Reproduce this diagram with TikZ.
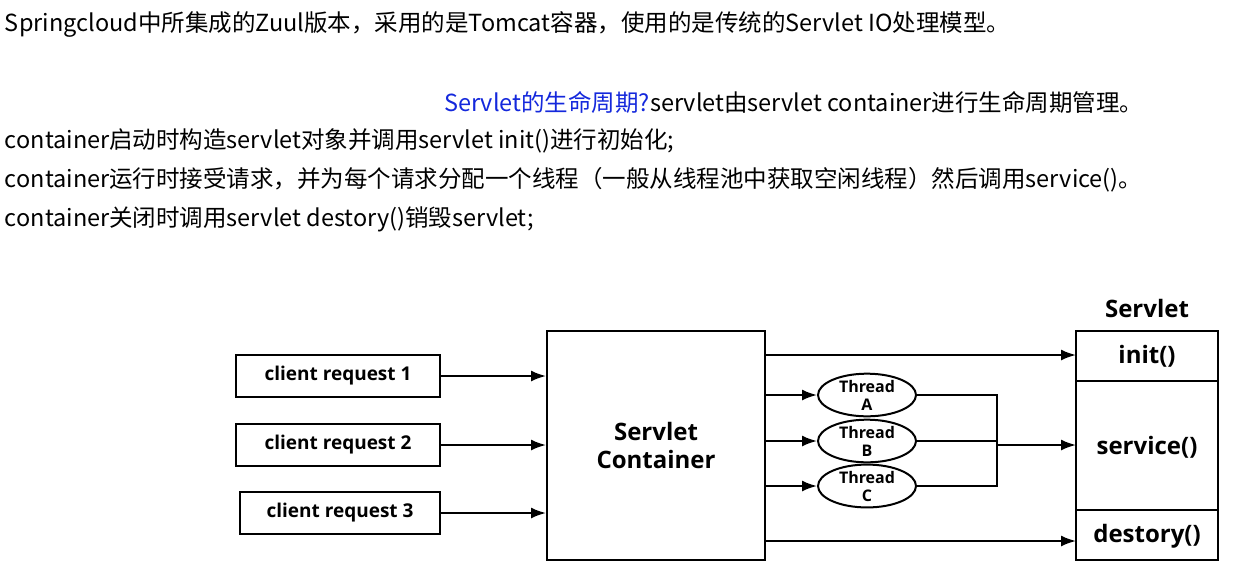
\documentclass[tikz,border=0pt]{standalone}
\usepackage{fontspec}
\setmainfont{Noto Sans CJK SC}
\newfontfamily\diagfont{Open Sans}
\usetikzlibrary{shapes.geometric,arrows.meta}
\definecolor{linkblue}{RGB}{20,40,220}
\begin{document}
\begin{tikzpicture}[x=1pt,y=-1pt,line width=2pt,
    line/.style={-{Latex[length=15pt,width=11pt]}},
    txt/.style={anchor=west,inner sep=0pt,font=\fontsize{23.5}{26}\selectfont},
    req/.style={draw,minimum width=204pt,minimum height=42pt,font=\diagfont\bfseries\fontsize{19}{22}\selectfont},
    thr/.style={draw,ellipse,minimum width=98pt,minimum height=40pt,inner sep=0pt,align=center,font=\diagfont\bfseries\fontsize{16}{18}\selectfont},
    big/.style={font=\diagfont\bfseries\fontsize{24}{28}\selectfont}]
  \useasboundingbox (0,0) rectangle (1239,573);
  % text lines
  \node[txt] (t1) at (4,24) {Springcloud中所集成的Zuul版本，采用的是Tomcat容器，使用的是传统的Servlet IO处理模型。};
  \node[txt] (t2) at (443,102) {\textcolor{linkblue}{Servlet的生命周期?}servlet由servlet container进行生命周期管理。};
  \node[txt] (t3) at (4,141) {container启动时构造servlet对象并调用servlet init()进行初始化;};
  \node[txt] (t4) at (4,180) {container运行时接受请求，并为每个请求分配一个线程（一般从线程池中获取空闲线程）然后调用service()。};
  \node[txt] (t5) at (4,219) {container关闭时调用servlet destory()销毁servlet;};

  % requests
  \node[req] (r1) at (338,376) {client request 1};
  \node[req] (r2) at (338,445) {client request 2};
  \node[req,minimum width=200pt] (r3) at (340,513) {client request 3};

  % container
  \node[draw,minimum width=218pt,minimum height=229pt,align=center,big] (sc) at (656,445.5) {Servlet\\Container};

  % servlet
  \node[draw,minimum width=142pt,minimum height=229pt] (sv) at (1147,445.5) {};
  \node[big] (svt) at (1147,308) {Servlet};
  \draw (1076,381) -- (1218,381);
  \draw (1076,510) -- (1218,510);
  \node[big] (init) at (1147,356) {init()};
  \node[big] (serv) at (1147,447) {service()};
  \node[big] (dest) at (1147,536) {destory()};

  % threads
  \node[thr] (ta) at (867,395) {Thread\\A};
  \node[thr] (tb) at (867,441) {Thread\\B};
  \node[thr] (tc) at (867,486) {Thread\\C};
  \coordinate (j) at (997,445);

  \foreach \r in {r1,r2,r3}
    \draw[line] (\r.east) -- (\r.east -| sc.west);
  \draw[line] (sc.east |- 0,355) -- (1076,355);
  \foreach \t in {ta,tb,tc}
    \draw[line] (sc.east |- \t) -- (\t.west);
  \draw (ta.east) -| (j) (tb.east) -- (tb.east -| j) (tc.east) -| (j);
  \draw[line] (j) -- (1076,445);
  \draw[line] (sc.east |- 0,541) -- (1076,541);
\end{tikzpicture}
\end{document}
